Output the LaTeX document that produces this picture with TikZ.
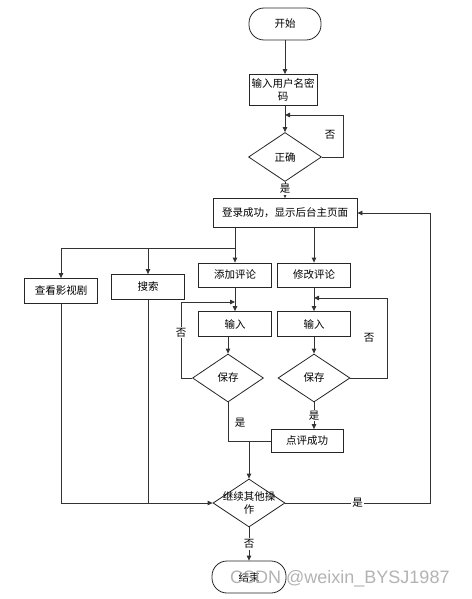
\documentclass[tikz,border=0pt]{standalone}
\usepackage{fontspec}
\setmainfont{Noto Sans CJK SC}
\newfontfamily\wmfont{Liberation Sans}
\usetikzlibrary{shapes.geometric,arrows.meta}
\begin{document}
\begin{tikzpicture}[x=1pt,y=-1pt,
  every node/.style={font=\fontsize{10.5}{13}\selectfont},
  box/.style={draw=black!85,line width=0.8pt,rectangle,inner sep=1pt,align=center},
  term/.style={box,rounded corners=15pt},
  dia/.style={draw=black!85,line width=0.8pt,diamond,inner sep=0pt},
  lbl/.style={fill=white,inner sep=1pt},
  arr/.style={draw=black!80,line width=0.8pt,-{Triangle[length=5pt,width=4.5pt]}},
  ln/.style={draw=black!80,line width=0.8pt}]
\fill[white] (0,0) rectangle (471,599);
\useasboundingbox (0,0) rectangle (471,599);

\node[term,minimum width=72pt,minimum height=32pt] (start) at (285,24) {开始};
\node[box,minimum width=68pt,minimum height=31pt] (input) at (283,90) {输入用户名密\\码};
\node[dia,minimum width=73pt,minimum height=49pt] (ok) at (285,157) {正确};
\node[box,minimum width=144pt,minimum height=29pt] (login) at (285,213) {登录成功，显示后台主页面};
\node[box,minimum width=73pt,minimum height=25pt] (view) at (61,291) {查看影视剧};
\node[box,minimum width=73pt,minimum height=25pt] (search) at (148,287) {搜索};
\node[box,minimum width=73pt,minimum height=24pt] (add) at (235,275) {添加评论};
\node[box,minimum width=73pt,minimum height=24pt] (edit) at (314,275) {修改评论};
\node[box,minimum width=73pt,minimum height=25pt] (in1) at (235,324) {输入};
\node[box,minimum width=73pt,minimum height=25pt] (in2) at (314,324) {输入};
\node[dia,minimum width=71pt,minimum height=48pt] (s1) at (228,378) {保存};
\node[dia,minimum width=72pt,minimum height=48pt] (s2) at (314,378) {保存};
\node[box,minimum width=72pt,minimum height=23pt] (ok2) at (307,441) {点评成功};
\node[dia,minimum width=72pt,minimum height=48pt,label={[align=center,font=\fontsize{10.5}{13}\selectfont]center:继续其他操\\作}] (cont) at (249,503) {};
\node[term,minimum width=74pt,minimum height=32pt] (end) at (249,577) {结束};

\coordinate (okloop) at (285,115);
\coordinate (bus) at (235,248);
\coordinate (j1) at (235,302);
\coordinate (j2) at (314,298);

\draw[arr] (start.south) -- (start.south |- input.north);
\draw[arr] (ok.north |- input.south) -- (ok.north);
\draw[arr] (ok.east) -- ++(21,0) |- (okloop);
\node at (330,135) {否};
\draw[arr] (ok.south) -- node[lbl,pos=0.45] {是} (login.north);

\draw[arr] (add.north |- login.south) -- (add.north);
\draw[arr] (edit.north |- login.south) -- (edit.north);
\draw[ln] (bus) -- (view.north |- bus);
\draw[arr] (view.north |- bus) -- (view.north);
\draw[arr] (search.north |- bus) -- (search.north);

\draw[arr] (add.south) -- (in1.north);
\draw[arr] (edit.south) -- (in2.north);
\draw[arr] (s1.north |- in1.south) -- (s1.north);
\draw[arr] (in2.south) -- (s2.north);

\draw[arr] (s1.west) -- ++(-11,0) |- node[lbl,pos=0.3] {否} (j1);
\draw[arr] (s2.east) -- ++(37,0) |- (j2);
\node at (369,338) {否};

\draw[arr] (s2.south) -- node[lbl,pos=0.5] {是} (s2.south |- ok2.north);
\draw[ln] (s1.south) |- (ok2.west);
\node at (240,423) {是};
\draw[arr] (cont.north |- ok2.west) -- (cont.north);

\draw[arr] (view.south) |- (cont.west);
\draw[ln] (search.south) -- (search.south |- cont.west);
\draw[arr] (cont.east) -- node[lbl,pos=0.5] {是} (430,503) |- (login.east);
\draw[arr] (cont.south) -- node[lbl,pos=0.5] {否} (end.north);

\node[text=gray!70,opacity=0.85,font=\wmfont\fontsize{18}{20}\selectfont,anchor=west,inner sep=0pt] (wm) at (230,579) {CSDN @weixin\_BYSJ1987};
\end{tikzpicture}
\end{document}
